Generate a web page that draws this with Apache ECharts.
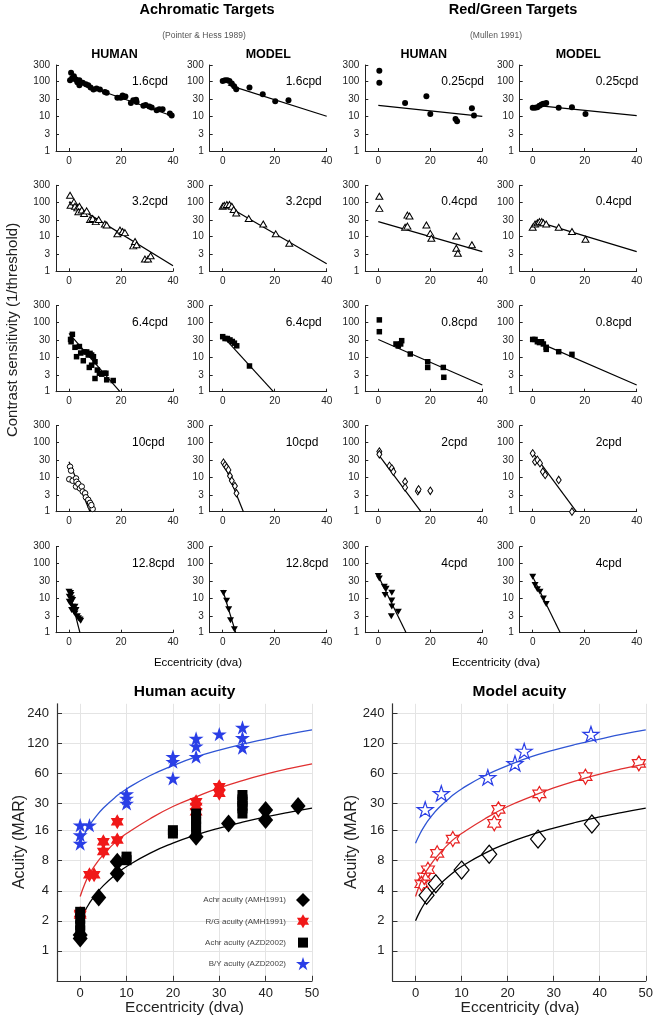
<!DOCTYPE html>
<html><head><meta charset="utf-8">
<script src="https://cdn.jsdelivr.net/npm/echarts@6/dist/echarts.min.js"></script>
<style>html,body{margin:0;padding:0;background:#fff}#c{width:656px;height:1019px}</style>
</head><body><div id="c"></div><script>
// ---------- small panels: data ----------
// Row 1 (filled circles)
const achHuman16 = [[0.4,110],[0.8,180],[1.2,125],[1.9,143],[2.7,115],[3.2,95],[4,110],[4,78],[5.3,92],[6.5,84],[7.4,78],[8.3,67],[9.4,59],[10.6,63],[11.9,59],[13.8,50],[14.5,48],[18.6,34],[19.9,34],[20.6,40],[21.2,36],[21.7,37],[23.8,24],[24.7,29],[25.8,30],[26,26],[28.6,20],[29.5,21],[30.9,19],[31.8,18],[33.7,15],[34.7,16],[36,16],[38.8,12],[39.5,10.5]];
const achHuman16Fit = [[0,115],[40,10]];
const achModel16 = [[0,103],[0.9,110],[1.8,110],[2.6,103],[3.5,88],[4.4,73],[5.2,60],[10.3,67],[15.4,43],[20.2,27],[25.3,29]];
const achModel16Fit = [[2,80],[40,10]];
const rgHuman025 = [[0.4,205],[0.4,92],[10.3,24],[18.5,37.5],[20,11.7],[29.7,8.4],[30.3,7.2],[36,17],[36.8,10.5]];
const rgHuman025Fit = [[0,20.5],[40,10]];
const rgModel025 = [[0,17.5],[0.9,17.5],[1.8,18.3],[2.6,20],[3.4,22],[4.1,23],[5.2,24],[10,17.5],[15.1,18.3],[20.3,11.7]];
const rgModel025Fit = [[3,20],[40,10.5]];
// Row 2 (open triangles)
const achHuman32 = [[0.4,155],[0.6,80],[1.9,100],[2.3,75],[3.2,67],[4,75],[3.6,52],[4.9,58],[5.8,46],[6.8,55],[8.1,31],[9.1,33],[10.3,27],[11.4,31],[13.8,23],[14.5,21.5],[18.6,12],[19.6,15.5],[20.6,14],[21.5,13],[24.7,5.4],[25.4,7.2],[26,5.8],[29.2,2.25],[30.4,2.25],[31.4,2.8]];
const achHuman32Fit = [[0,100],[40,1.45]];
const achModel32 = [[0,75],[0.6,80],[1.6,84],[2.6,84],[3.5,75],[4.2,60],[5.2,48],[10,33],[15.6,23],[20.4,12],[25.6,6.4]];
const achModel32Fit = [[0,90],[40,1.65]];
const rgHuman04 = [[0.4,145],[0.4,65],[10.3,18.5],[11.2,20],[11.2,41.5],[12,39],[18.5,21.5],[20,12.4],[20.4,9],[30,10.4],[30,4.6],[30.6,3.3],[36,5.8]];
const rgHuman04Fit = [[0,27],[40,3.7]];
const rgModel04 = [[0,18.5],[0.9,23],[1.8,25],[2.6,27],[3.5,27],[4.1,25],[5.2,23],[10,18.5],[15.1,14],[20.3,8.4]];
const rgModel04Fit = [[4,24],[40,3.7]];
// Row 3 (filled squares)
const achHuman64 = [[1.3,45],[0.6,32],[0.8,27.5],[2.3,19],[2.9,10.2],[4,20],[4.5,13],[5.5,7.8],[5.8,14],[6.8,14],[7.4,11.4],[8.1,12.7],[8.7,11.4],[7.8,5],[8.7,5.8],[9.4,10.2],[10,7.3],[10,2.4],[10.9,4.2],[11.7,3.4],[12.6,3.2],[13.5,3.4],[14.2,3.4],[14.5,2.2],[17,2.1]];
const achHuman64Fit = [[0,48],[19.6,1]];
const achModel64 = [[0,38.5],[0.9,34],[1.8,34],[2.8,31],[3.7,28],[4.5,25],[5.4,21],[10.3,5.5]];
const achModel64Fit = [[0,40],[19.5,1]];
const rgHuman08 = [[0.4,117],[0.4,53.5],[6.8,23.7],[7.7,20.8],[8.6,23.7],[9,29.5],[12.3,12.2],[19,7.3],[19,5],[25,5],[25.2,2.6]];
const rgHuman08Fit = [[0,32],[40,1.56]];
const rgModel08 = [[0,32],[0.9,32],[1.8,27.5],[2.6,26],[3.4,27.5],[4.1,23.7],[5.2,19],[5.2,16.6],[10,14.2],[15.1,11.9]];
const rgModel08Fit = [[0,31],[40,1.56]];
// Row 4 (open circles / diamonds)
const achHuman10 = [[0.4,19.8],[0.8,15.2],[0.1,8.6],[1.4,7.8],[2.7,9.1],[2.9,7.3],[2.7,5.3],[3.6,6.3],[4.2,4.7],[4.9,5.3],[5.3,3.8],[6.2,3.4],[6.5,2.6],[7.4,2.2],[8.1,1.8],[8.3,1.4],[9.1,1.2],[8.6,1.55]];
const achHuman10Fit = [[0,27.6],[8.1,1]];
const achModel10 = [[0.3,25.8],[0.9,22],[1.5,19],[2.2,16],[2.8,10.7],[3.5,7.8],[4.7,5.5],[5.3,3.4]];
const achModel10Fit = [[0,30],[7.95,1]];
const rgHuman2 = [[0.4,54],[0.4,45],[4.3,20.8],[5.2,17.7],[5.8,14.2],[10.3,7.3],[10.3,5],[15.2,3.9],[15.5,4.4],[20,4]];
const rgHuman2Fit = [[0,45],[16.4,1]];
const rgModel2 = [[0,48],[0.9,27.5],[1.8,31],[2.8,25],[3.9,14.2],[4.8,11.4],[10,8.2],[15.1,1]];
const rgModel2Fit = [[0,50],[16.8,1]];
// Row 5 (filled down-triangles)
const achHuman128 = [[0,15.2],[0.6,14],[0.1,10.9],[1,9.7],[0.1,7.8],[0.6,7],[1.4,5.6],[1,4.5],[1.9,4],[2.3,3.6],[2.7,4.5],[3.2,3],[3.6,2.6],[4.2,2.4],[4.5,2.2],[2.3,5.6],[1.4,8.7],[0.8,12.2]];
const achHuman128Fit = [[0,16.9],[4.2,1]];
const achModel128 = [[0.3,14],[1.5,8.3],[2.3,4.7],[3,2.3],[4.5,1.25]];
const achModel128Fit = [[0,17],[5,1]];
const rgHuman4 = [[0,43],[0.4,36.5],[2.3,21],[3,18.6],[2.6,12.2],[5.2,14.2],[5.2,8.4],[5.2,5.7],[5,3],[7.7,4]];
const rgHuman4Fit = [[0,43],[10.7,1]];
const rgModel4 = [[0,41],[0.9,23.6],[1.8,17.7],[2.8,15.2],[4.1,9.7],[5.2,6.7]];
const rgModel4Fit = [[0,41],[10.6,1]];

const freqLabels = [
  ['1.6cpd','1.6cpd','0.25cpd','0.25cpd'],
  ['3.2cpd','3.2cpd','0.4cpd','0.4cpd'],
  ['6.4cpd','6.4cpd','0.8cpd','0.8cpd'],
  ['10cpd','10cpd','2cpd','2cpd'],
  ['12.8cpd','12.8cpd','4cpd','4cpd']
];
const smallXTicks = [0, 20, 40];
const smallYTicks = [1, 3, 10, 30, 100, 300];

// ---------- acuity panels ----------
const humAchrAMH = [[0,1.44],[0,1.33],[4,3.43],[8,5.97],[8,7.8],[25,13.9],[32,18.9],[40,25.8],[40,20.5],[47,28.3]];
const humRgAMH = [[0,2.28],[0,2.37],[2,5.8],[3,5.8],[5,9.9],[5,12.4],[8,12.9],[8,19.7],[25,31.3],[25,28],[25,24.8],[30,44.2],[30,38]];
const humAchrAZD = [[0,2.46],[0,2.1],[0,1.8],[0,1.6],[10,8.1],[10,8.8],[20,16.2],[20,15],[25,23.8],[25,21],[25,19.7],[25,17.6],[25,15.7],[35,36.5],[35,33],[35,31.3],[35,28.5],[35,26.8],[35,23.8]];
const humByAZD = [[0,18.2],[0,14.5],[0,11.9],[2,18.2],[10,37.4],[10,33.8],[10,30.1],[20,88.5],[20,78.8],[20,53.6],[25,135],[25,113],[25,88.5],[30,149],[35,174],[35,137],[35,109]];
const modBy = [[2.1,26.2],[5.6,37.9],[15.7,54.8],[21.6,75.8],[23.6,100.8],[38.1,149]];
const modRg = [[1.3,4.7],[1.9,5.5],[2.7,6.5],[4.7,9.5],[8.1,13.2],[17.1,19],[18,26.2],[26.9,37.4],[36.9,55.7],[48.5,75.8]];
const modAchr = [[2.4,3.6],[4.4,4.7],[10,6.45],[16,9.3],[26.6,13.2],[38.3,18.7]];
const curveX = [0,1,2,3,5,8,10,15,20,25,30,35,40,45,50];
const curveAchr = [2.0,2.5,3.0,3.5,4.5,6.0,7.0,9.5,12,14.5,17,19.5,22,24.5,27];
const curveRg = [3.5,4.7,5.9,7.0,9.2,12.8,15,21,28,35,43,51,59,67,75];
const curveBy = [12,15,18,21,27,36,42,57,72,88,103,118,133,149,164];
const acuityXTicks = [0,10,20,30,40,50];
const acuityYTicks = [1,2,4,8,16,30,60,120,240];
const legendNames = ['Achr acuity (AMH1991)','R/G acuity (AMH1991)','Achr acuity (AZD2002)','B/Y acuity (AZD2002)'];

// ---------- build ----------
const FONT = '"Liberation Sans", Arial, Helvetica, sans-serif';
function starPath(n, rIn) {
  const pts = [];
  for (let i = 0; i < 2 * n; i++) {
    const r = i % 2 === 0 ? 1 : rIn;
    const a = -Math.PI / 2 + i * Math.PI / n;
    pts.push((r * Math.cos(a) * 50 + 50).toFixed(2) + ',' + (r * Math.sin(a) * 50 + 50).toFixed(2));
  }
  return 'path://M' + pts.join('L') + 'Z';
}
const STAR5 = starPath(5, 0.382);
const HEX6 = starPath(6, 0.577);

const panelData = [
  [[achHuman16,achHuman16Fit],[achModel16,achModel16Fit],[rgHuman025,rgHuman025Fit],[rgModel025,rgModel025Fit]],
  [[achHuman32,achHuman32Fit],[achModel32,achModel32Fit],[rgHuman04,rgHuman04Fit],[rgModel04,rgModel04Fit]],
  [[achHuman64,achHuman64Fit],[achModel64,achModel64Fit],[rgHuman08,rgHuman08Fit],[rgModel08,rgModel08Fit]],
  [[achHuman10,achHuman10Fit],[achModel10,achModel10Fit],[rgHuman2,rgHuman2Fit],[rgModel2,rgModel2Fit]],
  [[achHuman128,achHuman128Fit],[achModel128,achModel128Fit],[rgHuman4,rgHuman4Fit],[rgModel4,rgModel4Fit]]
];
const colLeft = [56, 209.7, 365.3, 519.7];
const rowTop = [65, 185.3, 305.7, 425.7, 546.7];
const PW = 117, PH = 86;
function markerStyle(r, c) {
  if (r === 0) return {symbol:'circle', symbolSize:6, itemStyle:{color:'#000', opacity:1}};
  if (r === 1) return {symbol:'triangle', symbolSize:[7,6], itemStyle:{color:'#fff', borderColor:'#000', borderWidth:1, opacity:1}};
  if (r === 2) return {symbol:'rect', symbolSize:5.5, itemStyle:{color:'#000', opacity:1}};
  if (r === 3) return c === 0 ? {symbol:'circle', symbolSize:5.5, itemStyle:{color:'#fff', borderColor:'#000', borderWidth:1, opacity:1}}
                              : {symbol:'diamond', symbolSize:[5,7.5], itemStyle:{color:'#fff', borderColor:'#000', borderWidth:1, opacity:1}};
  return {symbol:'triangle', symbolRotate:180, symbolSize:[7,6], itemStyle:{color:'#000', opacity:1}};
}

const grid = [], xAxis = [], yAxis = [], series = [], graphic = [];
const axisCol = '#222';
let gi = 0;
for (let r = 0; r < 5; r++) {
  for (let c = 0; c < 4; c++) {
    grid.push({left: colLeft[c], top: rowTop[r], width: PW, height: PH});
    xAxis.push({gridIndex: gi, type:'value', min:-5, max:40,
      axisLine:{onZero:false, lineStyle:{color:axisCol, width:1}},
      axisTick:{show:true, inside:true, length:3, customValues: smallXTicks, lineStyle:{color:axisCol}},
      axisLabel:{customValues: smallXTicks, fontSize:10, color:'#222', margin:5, fontFamily:FONT},
      splitLine:{show:false}});
    yAxis.push({gridIndex: gi, type:'log', logBase:10, min:1, max:300,
      axisLine:{show:true, onZero:false, lineStyle:{color:axisCol, width:1}},
      axisTick:{show:true, inside:true, length:3, customValues: smallYTicks, lineStyle:{color:axisCol}},
      axisLabel:{customValues: smallYTicks, fontSize:10, color:'#222', margin:6, fontFamily:FONT},
      splitLine:{show:false}, minorTick:{show:false}});
    const ms = markerStyle(r, c);
    series.push(Object.assign({type:'scatter', xAxisIndex: gi, yAxisIndex: gi, data: panelData[r][c][0], silent:true, z:3}, ms));
    series.push({type:'line', xAxisIndex: gi, yAxisIndex: gi, data: panelData[r][c][1], symbol:'none',
      lineStyle:{color:'#000', width:1.2}, silent:true, z:2});
    graphic.push({type:'text', x: colLeft[c] + 13 + 63, y: rowTop[r] + 16.6,
      style:{text: freqLabels[r][c], font: '12px ' + FONT, fill:'#000', textAlign:'left', textVerticalAlign:'middle'}});
    gi++;
  }
}

// acuity grids
const acuityGrids = [{left:57, top:703.8, width:255, height:277}, {left:392.5, top:703.8, width:255.2, height:277}];
acuityGrids.forEach(g => {
  grid.push(g);
  xAxis.push({gridIndex: gi, type:'value', min:-5, max:50,
    axisLine:{onZero:false, lineStyle:{color:'#333', width:1.2}},
    axisTick:{show:true, inside:true, length:5, customValues: acuityXTicks, lineStyle:{color:'#333'}},
    axisLabel:{customValues: acuityXTicks, fontSize:13, color:'#222', margin:6, fontFamily:FONT},
    splitLine:{show:true, lineStyle:{color:'#e4e4e4', width:1}}});
  yAxis.push({gridIndex: gi, type:'log', logBase:2, min:0.5, max:300,
    axisLine:{show:true, onZero:false, lineStyle:{color:'#333', width:1.2}},
    axisTick:{show:true, inside:true, length:5, customValues: acuityYTicks, lineStyle:{color:'#333'}},
    axisLabel:{customValues: acuityYTicks, fontSize:13, color:'#222', margin:8, fontFamily:FONT},
    splitLine:{show:true, lineStyle:{color:'#e4e4e4', width:1}}, minorTick:{show:false}});
  const ci = gi;
  const zipc = ys => curveX.map((x, i) => [x, ys[i]]);
  series.push({type:'line', name:'fitA'+ci, xAxisIndex:ci, yAxisIndex:ci, data: zipc(curveAchr), smooth:true, symbol:'none', lineStyle:{color:'#000', width:1.3}, silent:true, z:2});
  series.push({type:'line', name:'fitR'+ci, xAxisIndex:ci, yAxisIndex:ci, data: zipc(curveRg), smooth:true, symbol:'none', lineStyle:{color:'#e03030', width:1.3}, silent:true, z:2});
  series.push({type:'line', name:'fitB'+ci, xAxisIndex:ci, yAxisIndex:ci, data: zipc(curveBy), smooth:true, symbol:'none', lineStyle:{color:'#2f55d4', width:1.3}, silent:true, z:2});
  gi++;
});
const H = 20, M = 21;
series.push({type:'scatter', name:legendNames[0], xAxisIndex:H, yAxisIndex:H, data:humAchrAMH, symbol:'diamond', symbolSize:[15,18], itemStyle:{color:'#000', opacity:1}, z:3});
series.push({type:'scatter', name:legendNames[1], xAxisIndex:H, yAxisIndex:H, data:humRgAMH, symbol:HEX6, symbolKeepAspect:true, symbolSize:15, itemStyle:{color:'#f01818', opacity:1}, z:3});
series.push({type:'scatter', name:legendNames[2], xAxisIndex:H, yAxisIndex:H, data:humAchrAZD, symbol:'rect', symbolSize:[10,10], itemStyle:{color:'#000', opacity:1}, z:3});
series.push({type:'scatter', name:legendNames[3], xAxisIndex:H, yAxisIndex:H, data:humByAZD, symbol:STAR5, symbolKeepAspect:true, symbolSize:15, itemStyle:{color:'#2a3ee6', opacity:1}, z:3});
series.push({type:'scatter', name:'mA', xAxisIndex:M, yAxisIndex:M, data:modAchr, symbol:'diamond', symbolSize:[15,18], itemStyle:{color:'transparent', borderColor:'#000', borderWidth:1.2, opacity:1}, z:3});
series.push({type:'scatter', name:'mR', xAxisIndex:M, yAxisIndex:M, data:modRg, symbol:HEX6, symbolKeepAspect:true, symbolSize:15, itemStyle:{color:'transparent', borderColor:'#e82020', borderWidth:1.2, opacity:1}, z:3});
series.push({type:'scatter', name:'mB', xAxisIndex:M, yAxisIndex:M, data:modBy, symbol:STAR5, symbolKeepAspect:true, symbolSize:16, itemStyle:{color:'transparent', borderColor:'#2a3ee6', borderWidth:1.2, opacity:1}, z:3});

// texts
const T = (text, x, y, font, extra) => Object.assign({type:'text', x, y, style:Object.assign({text, font, fill:'#000', textAlign:'center', textVerticalAlign:'middle'}, extra || {})});
graphic.push(T('Achromatic Targets', 207, 9.5, 'bold 14.5px ' + FONT));
graphic.push(T('Red/Green Targets', 513, 9.5, 'bold 14.5px ' + FONT));
graphic.push(T('(Pointer & Hess 1989)', 204, 36, '8.5px ' + FONT, {fill:'#555'}));
graphic.push(T('(Mullen 1991)', 496, 36, '8.5px ' + FONT, {fill:'#555'}));
['HUMAN','MODEL','HUMAN','MODEL'].forEach((t, c) => graphic.push(T(t, colLeft[c] + PW / 2, 54.5, 'bold 12.5px ' + FONT)));
graphic.push(Object.assign(T('Contrast sensitivity (1/threshold)', 13, 330, '15px ' + FONT, {fill:'#222'}), {rotation: Math.PI / 2}));
graphic.push(T('Eccentricity (dva)', 198, 662.5, '11.5px ' + FONT));
graphic.push(T('Eccentricity (dva)', 496, 662.5, '11.5px ' + FONT));
graphic.push(T('Human acuity', 184.5, 691.5, 'bold 15.5px ' + FONT));
graphic.push(T('Model acuity', 519.5, 691.5, 'bold 15.5px ' + FONT));
graphic.push(Object.assign(T('Acuity (MAR)', 20, 842, '16px ' + FONT, {fill:'#222'}), {rotation: Math.PI / 2}));
graphic.push(Object.assign(T('Acuity (MAR)', 352, 842, '16px ' + FONT, {fill:'#222'}), {rotation: Math.PI / 2}));
graphic.push(T('Eccentricity (dva)', 184.5, 1008, '15.5px ' + FONT, {fill:'#222'}));
graphic.push(T('Eccentricity (dva)', 520, 1008, '15.5px ' + FONT, {fill:'#222'}));

const chart = echarts.init(document.getElementById('c'), null, {renderer:'canvas'});
chart.setOption({
  animation:false,
  backgroundColor:'#fff',
  grid, xAxis, yAxis, series, graphic,
  legend:{
    data: [
      {name:legendNames[0], icon:'diamond'},
      {name:legendNames[1], icon:HEX6},
      {name:legendNames[2], icon:'path://M0,0M14,14M2,2h10v10h-10z'},
      {name:legendNames[3], icon:STAR5}
    ],
    orient:'vertical', align:'right', right:341, top:888, itemWidth:14, itemHeight:14, itemGap:7.3,
    selectedMode:false,
    textStyle:{fontSize:8, color:'#444', fontFamily:FONT, padding:[0,5,0,0]}
  }
});
</script></body></html>
